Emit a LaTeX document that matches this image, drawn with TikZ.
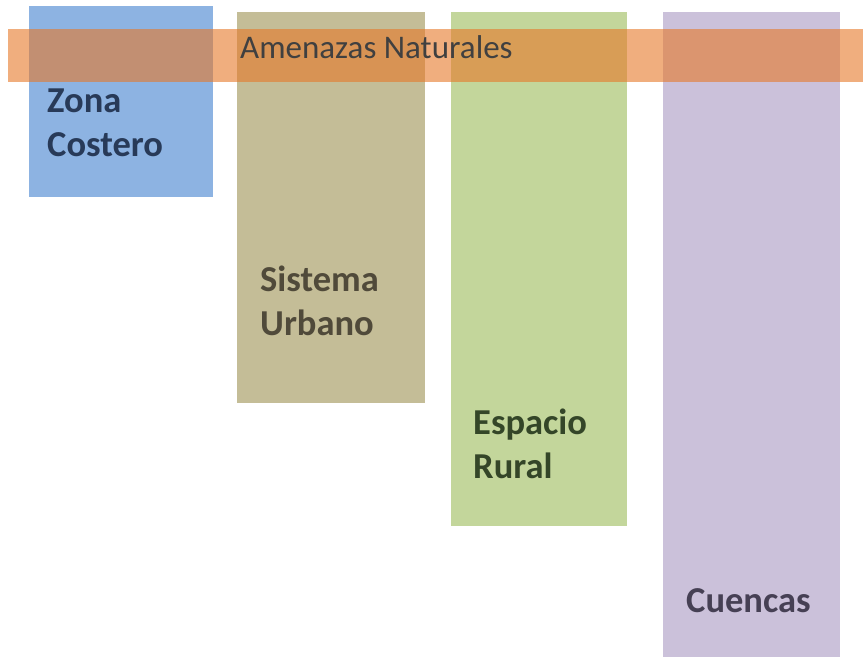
\documentclass[tikz,border=0pt]{standalone}
\usepackage{fontspec}
\setmainfont{Carlito}
\definecolor{barblue}{RGB}{141,179,226}
\definecolor{bartan}{RGB}{196,189,151}
\definecolor{bargreen}{RGB}{195,214,155}
\definecolor{barlila}{RGB}{203,193,218}
\definecolor{bandorange}{RGB}{230,120,40}
\definecolor{txtgray}{RGB}{64,64,64}
\tikzset{
  bar/.style={rectangle, inner sep=0pt, outer sep=0pt, anchor=north west},
  barlabel/.style={anchor=base west, align=left, inner sep=0pt, font=\fontsize{36.5}{44}\selectfont\bfseries}
}
\begin{document}
\begin{tikzpicture}[x=1pt,y=-1pt]
	\useasboundingbox (0,0) rectangle (863,657);
	\node[bar, fill=barblue, minimum width=184pt, minimum height=191pt] (costa) at (29,6) {};
	\node[bar, fill=bartan, minimum width=188pt, minimum height=391pt] (urbano) at (237,12) {};
	\node[bar, fill=bargreen, minimum width=176pt, minimum height=514pt] (rural) at (451,12) {};
	\node[bar, fill=barlila, minimum width=177pt, minimum height=645pt] (cuencas) at (663,12) {};
	\node[barlabel, text={rgb,255:red,40;green,58;blue,88}] (costatxt) at (47,156) {Zona\\Costero};
	\node[barlabel, text={rgb,255:red,80;green,74;blue,58}] (urbanotxt) at (260,335) {Sistema\\Urbano};
	\node[barlabel, text={rgb,255:red,52;green,70;blue,40}] (ruraltxt) at (473,478) {Espacio\\Rural};
	\node[barlabel, text={rgb,255:red,70;green,64;blue,84}] (cuencastxt) at (686,612) {Cuencas};
	\node[bar, fill=bandorange, fill opacity=0.6, minimum width=855pt, minimum height=53pt] (amenazas) at (8,29) {};
	\node[anchor=base west, inner sep=0pt, text=txtgray, font=\fontsize{33}{38}\selectfont] (amenazastxt) at (240,58) {Amenazas Naturales};
\end{tikzpicture}
\end{document}
